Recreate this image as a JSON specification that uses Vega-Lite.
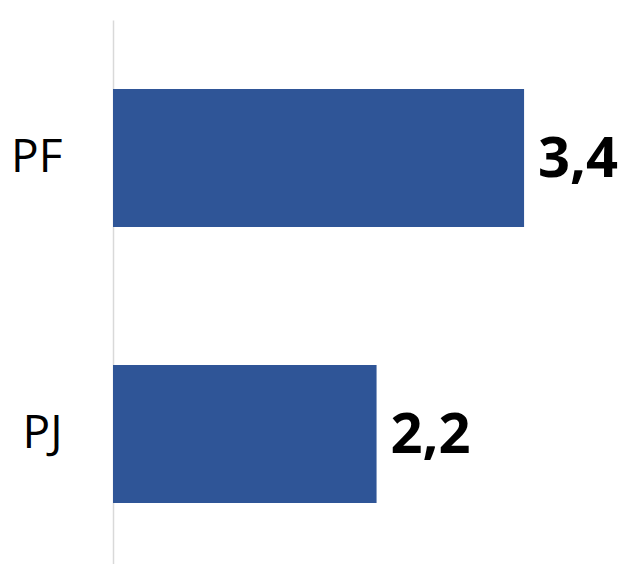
{
  "$schema": "https://vega.github.io/schema/vega-lite/v6.json",
  "autosize": "none",
  "padding": {"left": 113, "top": 0, "right": 0, "bottom": 0},
  "width": 509,
  "height": 564,
  "background": "white",
  "config": {"view": {"stroke": null}},
  "data": {"values": [
    {"cat": "PF", "value": 3.4, "label": "3,4"},
    {"cat": "PJ", "value": 2.18, "label": "2,2"}
  ]},
  "encoding": {
    "y": {"field": "cat", "type": "nominal", "sort": null,
      "scale": {"range": [20, 572], "paddingInner": 0.5, "paddingOuter": 0.25},
      "axis": {"title": null, "ticks": false, "labelPadding": 51, "labelFont": "Open Sans", "labelFontSize": 46, "labelColor": "#000000", "domainColor": "#d9d9d9", "domainWidth": 1.5, "labelBaseline": "middle"}},
    "x": {"field": "value", "type": "quantitative", "scale": {"domain": [0, 4.21]}, "axis": null}
  },
  "layer": [
    {"mark": {"type": "bar", "color": "#2F5597"}},
    {"mark": {"type": "text", "align": "left", "baseline": "middle", "dx": 14, "dy": 2, "font": "Open Sans", "fontWeight": "bold", "fontSize": 56, "color": "#000000"},
     "encoding": {"text": {"field": "label"}}}
  ]
}
